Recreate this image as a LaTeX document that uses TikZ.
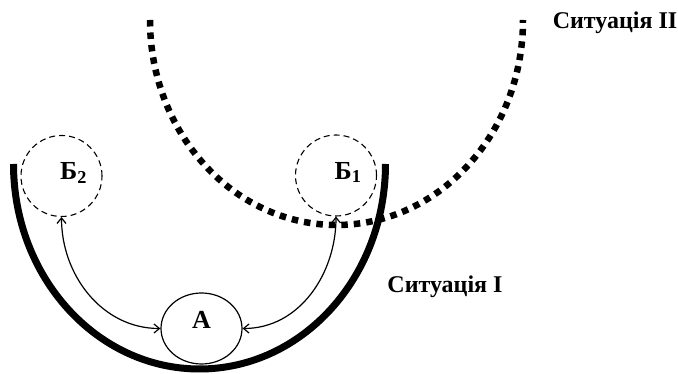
\documentclass[tikz,border=0pt]{standalone}
\usepackage{fontspec}
\setmainfont{Liberation Serif}
\usetikzlibrary{arrows.meta,shapes.geometric}

\begin{document}
\begin{tikzpicture}[x=1pt,y=1pt,>={Straight Barb[length=5.5pt,width=9pt]},
    bkrug/.style={circle,draw,dash pattern=on 6pt off 4pt,line width=1.1pt,minimum size=81pt,inner sep=0pt},
    litera/.style={font=\fontsize{26}{30}\selectfont\bfseries},
    napys/.style={font=\fontsize{24}{28}\selectfont\bfseries,anchor=base}]
  \useasboundingbox (0,0) rectangle (678,374);
  % situatsiia I
  \draw[line width=7pt] (13.5,210) arc[start angle=180,end angle=360,x radius=186,y radius=205];
  % situatsiia II
  \draw[line width=6.5pt,dash pattern=on 6.5pt off 6pt] (150,354) arc[start angle=180,end angle=360,x radius=186.5,y radius=205];
  \node[bkrug,label={[litera,xshift=12pt,yshift=3pt]center:Б\textsubscript{2}}] (b2) at (61.5,198) {};
  \node[bkrug,label={[litera,xshift=12pt,yshift=3pt]center:Б\textsubscript{1}}] (b1) at (336,198.5) {};
  \node[ellipse,draw,line width=1.2pt,minimum width=81pt,minimum height=71pt,inner sep=0pt,
        label={[litera,yshift=9pt]center:А}] (a) at (201.5,45.5) {};
  \draw[<->,line width=1.2pt] (b2.south) to[out=-90,in=180] (a.west);
  \draw[<->,line width=1.2pt] (b1.south) to[out=-90,in=0] (a.east);
  \node[napys] (sit2) at (615,345) {Ситуація II};
  \node[napys] (sit1) at (445,81) {Ситуація I};
\end{tikzpicture}
\end{document}
